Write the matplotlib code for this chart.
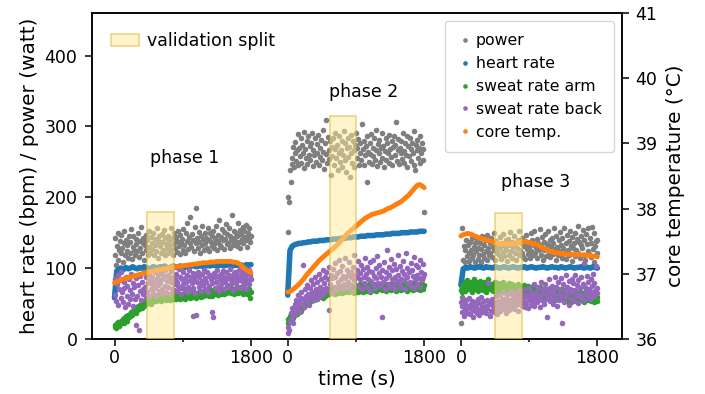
import numpy as np
import matplotlib
matplotlib.use("Agg")
import matplotlib.pyplot as plt
from matplotlib.patches import Rectangle
from matplotlib.lines import Line2D

# ---------------- data ----------------
phase_names = ["phase 1", "phase 2", "phase 3"]
phase_offset = [0, 2285, 4570]          # start of each phase on the shared time axis (s)
phase_len = 1800
tick_labels = ["0", "1800"]

# power (watt), 10 s sampling
power_p1 = [118,142,105,131,150,112,126,138,121,147, 128,109,135,152,119,140,124,133,115,145,
            137,122,155,113,130,146,126,118,141,134, 124,149,116,138,129,158,121,135,143,112,
            132,147,125,139,118,153,130,122,144,136, 127,150,119,141,133,124,156,138,115,145,
            131,122,148,137,126,154,119,142,134,128, 146,121,139,132,157,125,143,118,136,150,
            129,144,123,138,152,131,120,147,135,141, 126,155,133,121,149,138,164,127,144,136,
            172,130,148,33,139,124,158,135,185,143, 128,151,137,122,146,133,160,141,126,149,
            135,143,128,156,139,124,150,137,145,131, 153,129,142,136,159,125,147,138,168,133,
            144,130,155,139,127,151,141,162,134,148, 136,157,128,146,140,175,132,152,143,138,
            150,131,145,163,137,154,129,148,141,158, 135,152,144,139,161,130,149,143,156,137, 146]
power_p2 = [151,200,193,238,222,256,247,271,243,262, 278,251,266,289,245,270,258,283,249,274,
            262,292,241,268,255,280,247,286,260,272, 253,277,291,244,266,259,284,250,275,263,
            288,246,270,257,281,252,295,264,240,276, 309,261,248,285,267,254,279,231,271,258,
            283,245,268,290,256,274,238,262,287,250, 266,280,243,259,293,252,276,235,269,284,
            257,271,229,288,262,248,279,266,242,274, 291,255,269,282,246,263,277,253,304,268,
            245,280,259,272,221,286,264,250,276,261, 289,247,270,258,283,252,267,295,244,275,
            262,281,250,269,256,290,273,243,265,284, 253,277,262,248,288,268,257,280,245,271,
            286,259,274,306,251,266,282,247,270,263, 279,254,290,265,248,276,260,287,242,272,
            258,284,268,251,277,263,293,246,239,274, 266,281,255,270,249,286,262,276,253,268, 179]
power_p3 = [23,156,59,112,131,108,125,140,117,133, 121,110,137,126,114,143,119,130,108,135,
            124,141,113,129,118,136,109,127,145,120, 132,115,139,124,111,147,128,119,135,122,
            142,116,130,125,150,112,138,121,133,127, 118,144,129,113,136,123,148,117,131,139,
            126,110,141,132,119,151,124,137,115,130, 145,121,134,112,128,140,118,153,126,135,
            122,143,116,131,138,113,147,127,120,136, 130,115,149,124,139,118,133,152,121,128,
            141,114,135,126,155,119,132,144,111,137, 125,148,117,134,129,153,122,140,116,131,
            143,120,136,156,127,112,145,130,118,139, 124,151,133,115,142,128,157,121,136,113,
            147,126,138,119,153,131,110,144,129,135, 117,150,125,141,160,122,137,114,146,132,
            128,154,119,139,111,148,134,124,156,120, 143,116,135,158,127,109,149,131,138,122, 140]

# heart rate (bpm), 30 s sampling
hr_p1 = [58,96,99,100,98,101,99,100,102,100, 99,101,100,102,101,99,100,102,101,100,
         102,101,103,101,100,102,103,101,102,103, 102,101,103,102,104,103,102,103,104,102,
         103,104,103,105,104,103,104,105,103,104, 105,104,103,105,104,105,104,103,105,104, 105]
hr_p2 = [62,125,131,133,134,135,135,136,136,137, 137,138,138,138,139,139,139,140,140,140,
         141,141,141,142,142,142,143,143,143,144, 144,144,145,145,145,146,146,146,146,147,
         147,147,147,148,148,148,149,149,149,149, 150,150,150,150,151,151,151,151,152,152, 152]
hr_p3 = [76,99,101,100,102,101,100,101,102,101, 100,102,101,101,100,102,101,100,101,102,
         101,100,101,102,101,100,101,101,102,100, 101,102,101,100,101,101,102,101,100,101,
         102,101,101,100,102,101,100,101,102,101, 100,101,101,102,100,101,101,100,102,101, 100]

# sweat rate arm, 10 s sampling
arm_p1 = [17,20,15,22,19,24,18,21,26,23, 25,28,22,30,27,33,29,26,34,31, 35,32,38,34,40,36,42,39,37,44,
          41,46,43,48,45,50,44,49,52,47, 53,49,55,51,57,52,54,58,50,56, 55,59,53,57,61,54,58,56,62,55,
          58,54,60,57,63,56,59,61,55,60, 57,62,58,55,61,59,64,56,60,58, 62,57,60,64,58,61,56,63,59,62,
          58,63,60,57,65,61,59,62,66,58, 61,64,59,63,60,66,62,58,65,61, 63,60,66,62,59,67,64,61,65,62,
          66,62,64,68,61,65,63,69,64,60, 65,68,63,66,70,64,67,62,69,65, 67,63,70,66,64,71,68,65,69,72,
          66,70,67,73,65,69,71,68,64,70, 72,67,69,65,71,68,73,66,70,68, 64,69,72,66,70,63,68,71,65,58, 67]
arm_p2 = [22,28,25,33,27,36,31,29,38,34, 37,41,35,43,39,46,42,40,48,44, 47,51,45,53,49,55,50,57,52,54,
          58,53,60,56,62,55,59,63,57,61, 64,59,62,66,60,65,58,67,63,61, 68,62,66,64,70,63,67,71,65,69,
          66,72,64,69,67,73,65,70,68,74, 67,71,65,73,69,66,75,70,68,72, 74,67,71,69,76,68,73,70,65,72,
          69,75,71,67,74,70,77,68,72,66, 73,70,76,68,71,74,69,78,72,67, 71,75,69,73,77,70,74,68,76,72,
          70,74,78,71,69,75,72,79,73,68, 76,71,74,70,77,73,69,78,72,75, 71,77,74,68,76,72,79,70,75,73,
          69,74,78,71,76,70,73,77,68,75, 72,76,70,78,73,69,75,71,80,74, 70,77,73,76,69,74,79,72,75,71, 76]
arm_p3 = [69,74,66,78,71,80,68,75,83,72, 77,70,81,74,67,79,73,84,71,76, 80,72,68,77,74,82,70,78,75,69,
          76,81,73,67,79,72,85,74,70,77, 73,78,68,75,71,80,66,76,72,79, 70,74,77,67,73,81,69,75,72,65,
          76,71,68,74,79,66,72,70,77,64, 71,75,67,73,62,78,69,72,66,74, 68,71,64,76,70,63,73,67,75,61,
          69,72,65,74,62,70,67,59,71,66, 64,70,58,68,73,62,66,60,71,65, 63,67,57,70,61,66,59,72,64,60,
          68,58,65,62,55,69,63,60,67,57, 61,66,59,70,56,64,62,58,68,54, 63,60,67,57,65,52,61,69,59,64,
          56,62,66,58,63,53,60,67,55,61, 64,57,62,52,66,59,63,55,60,65, 58,61,54,63,57,60,52,64,56,59, 53]

# sweat rate back, 10 s sampling
back_p1 = [62,85,54,78,90,48,70,83,58,95, 66,52,80,72,45,88,61,75,50,84, 69,57,92,64,47,79,73,56,20,86,
           60,76,13,68,89,55,81,71,63,94, 74,58,87,66,79,92,61,83,70,77, 88,65,80,95,72,60,85,76,91,68,
           79,93,70,84,62,89,75,98,67,82, 90,73,86,64,80,96,71,87,77,69, 84,92,68,81,75,99,72,88,63,85,
           78,94,70,86,80,66,91,74,97,83, 69,87,79,93,72,85,65,90,34,81, 95,73,88,78,68,92,82,76,98,71,
           86,80,94,67,89,75,91,84,38,79, 31,93,72,87,81,97,74,89,68,85, 92,78,83,96,71,88,80,94,76,86,
           73,90,84,99,77,87,69,93,82,95, 79,91,86,74,98,83,89,72,94,80, 88,76,95,85,70,92,81,97,78,90, 84]
back_p2 = [8,17,12,25,37,30,44,22,41,50, 35,55,47,41,62,52,38,58,66,49, 104,57,45,70,61,53,76,64,48,72,
           59,83,67,55,78,62,88,70,57,81, 66,92,74,61,85,70,97,63,79,88, 72,95,68,84,41,101,77,90,65,86,
           99,74,88,107,69,93,81,112,76,96, 84,70,103,89,78,115,86,72,98,91, 80,108,75,94,87,68,102,83,118,90,
           76,97,88,110,73,93,84,105,70,99, 87,79,114,92,74,101,85,96,68,108, 82,94,77,111,89,72,100,86,117,79,
           93,104,75,88,31,98,81,109,70,95, 86,125,78,102,90,73,113,84,97,76, 106,88,71,99,82,119,91,77,103,85,
           74,96,110,83,92,70,121,87,100,79, 94,81,107,75,98,89,116,72,85,104, 90,78,101,86,112,73,95,83,106,88, 92]
back_p3 = [52,38,46,57,33,49,42,55,36,47, 44,58,35,50,41,54,31,46,39,52, 48,37,56,43,34,51,40,59,45,38,
           53,42,47,36,55,44,79,49,33,51, 40,57,46,38,52,43,60,35,48,54, 45,62,39,50,56,42,66,47,53,37,
           58,44,63,49,41,55,68,46,52,60, 43,57,65,48,54,40,61,69,50,56, 47,64,53,59,45,70,51,62,44,58,
           72,55,48,66,60,53,77,46,63,57, 68,52,74,59,45,81,62,55,70,49, 65,78,56,31,71,60,84,53,67,58,
           75,50,69,62,88,57,73,46,80,64, 55,71,86,61,23,77,52,68,90,59, 74,63,82,48,70,57,85,66,79,54,
           69,91,60,76,51,83,64,72,58,87, 62,78,107,55,73,67,89,60,81,70, 57,84,66,75,92,61,79,68,103,72, 65]

# core temperature (deg C), 30 s sampling
core_p1 = [36.86,36.88,36.89,36.91,36.92,36.93,36.94,36.95,36.96,36.97, 36.98,36.99,37.00,37.01,37.02,37.03,37.03,37.04,37.05,37.06,
           37.06,37.07,37.08,37.08,37.09,37.10,37.10,37.11,37.11,37.12, 37.12,37.13,37.13,37.14,37.14,37.15,37.15,37.16,37.16,37.17,
           37.17,37.17,37.18,37.18,37.18,37.19,37.19,37.19,37.19,37.19, 37.19,37.19,37.18,37.18,37.17,37.15,37.12,37.09,37.06,37.04, 37.02]
core_p2 = [36.72,36.73,36.75,36.78,36.81,36.84,36.88,36.92,36.97,37.01, 37.05,37.09,37.13,37.17,37.21,37.24,37.27,37.30,37.33,37.36,
           37.39,37.42,37.45,37.49,37.53,37.57,37.61,37.64,37.67,37.70, 37.73,37.76,37.79,37.82,37.85,37.87,37.89,37.91,37.92,37.93,
           37.94,37.95,37.96,37.98,38.00,38.01,38.03,38.05,38.07,38.09, 38.11,38.14,38.17,38.20,38.24,38.28,38.32,38.36,38.37,38.35, 38.32]
core_p3 = [37.58,37.60,37.61,37.62,37.61,37.60,37.58,37.57,37.55,37.54, 37.53,37.52,37.51,37.50,37.49,37.48,37.47,37.46,37.46,37.46,
           37.45,37.46,37.46,37.46,37.47,37.48,37.48,37.49,37.49,37.49, 37.48,37.47,37.46,37.45,37.44,37.42,37.40,37.38,37.37,37.35,
           37.34,37.33,37.32,37.32,37.31,37.31,37.30,37.30,37.30,37.30, 37.29,37.30,37.30,37.29,37.29,37.29,37.28,37.28,37.27,37.27, 37.26]

# validation split windows (s within phase) and their heights (left-axis units)
val_start = [430, 552, 456]
val_end = [780, 902, 806]
val_top = [179, 315, 178]

# phase label anchor (s within phase, left-axis value)
label_t = [930, 1003, 988]
label_y = [255, 349, 221]

power = [power_p1, power_p2, power_p3]
hr = [hr_p1, hr_p2, hr_p3]
arm = [arm_p1, arm_p2, arm_p3]
back = [back_p1, back_p2, back_p3]
core = [core_p1, core_p2, core_p3]

# ---------------- styles ----------------
C_POW, C_HR, C_ARM, C_BACK, C_CORE = "#7f7f7f", "#1f77b4", "#2ca02c", "#9467bd", "#ff7f0e"
VAL_FACE, VAL_EDGE = "#ffeb9b", "#d9b020"
S = 16

plt.rcParams["axes.linewidth"] = 1.1

fig = plt.figure(figsize=(7.05, 3.94), dpi=100)
ax = fig.add_axes([92 / 705, 55 / 394, 530 / 705, 326 / 394])
ax2 = ax.twinx()


def xs(k, vals):
    return phase_offset[k] + np.linspace(0, phase_len, len(vals))


for k in range(3):
    ax.scatter(xs(k, power[k]), power[k], s=S, color=C_POW, linewidths=0, zorder=2)
    ax.plot(xs(k, hr[k]), hr[k], color=C_HR, lw=4, solid_capstyle="round", zorder=3)
    ax.scatter(xs(k, arm[k]), arm[k], s=S, color=C_ARM, linewidths=0, zorder=4)
    ax.scatter(xs(k, back[k]), back[k], s=S, color=C_BACK, linewidths=0, zorder=5)
    ax2.plot(xs(k, core[k]), core[k], color=C_CORE, lw=3.5, solid_capstyle="round", zorder=2)
    ax2.add_patch(Rectangle((phase_offset[k] + val_start[k], 0), val_end[k] - val_start[k], val_top[k],
                            transform=ax.transData, facecolor=VAL_FACE, edgecolor=VAL_EDGE,
                            alpha=0.5, lw=1.2, zorder=5))
    ax.text(phase_offset[k] + label_t[k], label_y[k], phase_names[k], ha="center", va="center",
            fontsize=12.5)

ax.set_xlim(-297, 6695)
ax.set_ylim(0, 460)
ax2.set_ylim(36, 41)
ax.set_yticks([0, 100, 200, 300, 400])
ax2.set_yticks([36, 37, 38, 39, 40, 41])

major = []
minor = []
for o in phase_offset:
    major += [o, o + phase_len]
    minor.append(o + phase_len / 2)
ax.set_xticks(major)
ax.set_xticklabels(tick_labels * 3)
ax.set_xticks(minor, minor=True)
ax.tick_params(axis="both", labelsize=12.5, length=5, width=1.1)
ax.tick_params(axis="y", pad=5.5)
ax.tick_params(axis="x", which="major", pad=2.5)
ax.tick_params(axis="x", which="minor", length=2.2, width=1.1)
ax2.tick_params(axis="y", labelsize=12.5, length=5, width=1.1, pad=4.5)

ax.set_xlabel("time (s)", fontsize=14.4, labelpad=1.5)
ax.set_ylabel("heart rate (bpm) / power (watt)", fontsize=14.4)
ax2.set_ylabel("core temperature (°C)", fontsize=14.4, labelpad=6)

# legends
val_handle = Rectangle((0, 0), 1, 1, facecolor=VAL_FACE, edgecolor=VAL_EDGE, alpha=0.5, lw=1.2)
leg1 = ax2.legend([val_handle], ["validation split"], loc="upper left", frameon=False,
                  fontsize=12.5, handlelength=1.6, handletextpad=0.45, borderaxespad=0.7)
ax2.add_artist(leg1)

handles = [Line2D([], [], ls="", marker="o", ms=2.3, color=c) for c in (C_POW, C_HR, C_ARM, C_BACK, C_CORE)]
labels = ["power", "heart rate", "sweat rate arm", "sweat rate back", "core temp."]
ax2.legend(handles, labels, loc="upper right", fontsize=11.3, borderpad=0.8,
           handlelength=0.9, handletextpad=0.25, labelspacing=0.5)

fig.savefig("out.png", dpi=100)
